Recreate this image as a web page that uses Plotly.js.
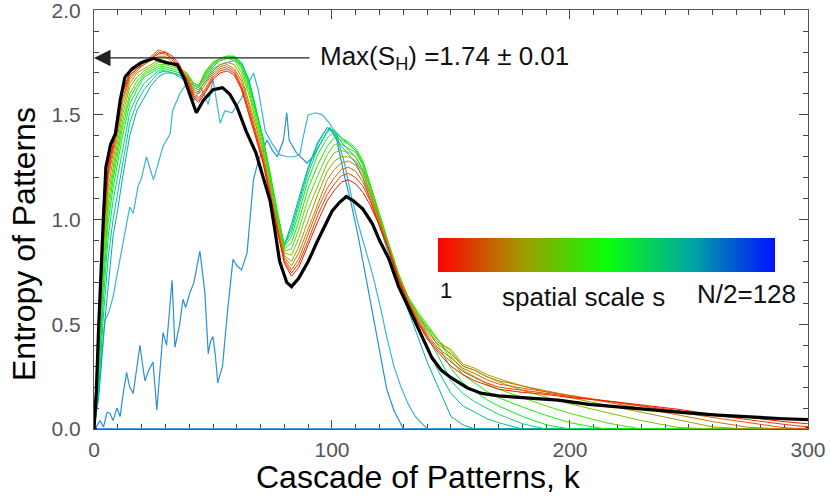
<!DOCTYPE html>
<html>
<head>
<meta charset="utf-8">
<script src="https://cdn.plot.ly/plotly-3.0.1.min.js"></script>
<style>html,body{margin:0;padding:0;background:#fff;}#chart{width:831px;height:497px;}</style>
</head>
<body>
<div id="chart"></div>
<script>
// ---------- data ----------
// Cascade index k for the scale family (s = 1 ... ~100)
const kFamily = [0,2,4,6,8,10,12,15,18,21,24,27,30,33,36,39,42,44,47,50,53,56,59,62,65,68,71,74,77,80,83,86,90,94,98,101,104,107,110,113,116,120,124,128,132,136,140,145,150,155,160,165,170,180,190,200,215,230,245,260,275,290,300];

// Entropy curves, one per spatial scale (red = small s ... teal = large s)
const scaleS = [1, 8, 16, 24, 32, 40, 50, 60, 70, 80, 90, 100];
const scaleColors = ['#ff1500','#f23c00','#e05e00','#c47c00','#a39c00','#7cc400','#48e200','#14f200','#00ee2e','#00dc62','#00c496','#00aab4'];

const s001 = [0,.55,1.00,1.26,1.36,1.49,1.61,1.70,1.73,1.75,1.77,1.79,1.80,1.78,1.74,1.66,1.58,1.56,1.61,1.67,1.70,1.71,1.69,1.62,1.51,1.39,1.27,1.11,.94,.79,.73,.77,.88,.99,1.09,1.14,1.18,1.19,1.17,1.13,1.07,.97,.85,.71,.60,.51,.43,.36,.30,.26,.23,.21,.19,.175,.165,.15,.135,.115,.095,.07,.055,.035,.025];
const s008 = [0,.5,.98,1.24,1.35,1.47,1.60,1.69,1.72,1.74,1.77,1.80,1.79,1.77,1.73,1.67,1.59,1.57,1.62,1.68,1.71,1.72,1.70,1.63,1.52,1.40,1.28,1.12,.95,.80,.745,.79,.90,1.02,1.12,1.17,1.21,1.22,1.20,1.16,1.09,.97,.85,.71,.60,.51,.44,.37,.32,.275,.245,.22,.20,.185,.17,.155,.135,.11,.09,.068,.045,.022,.01];
const s016 = [0,.48,.95,1.22,1.33,1.45,1.58,1.68,1.72,1.75,1.78,1.81,1.80,1.76,1.72,1.68,1.60,1.58,1.63,1.69,1.72,1.73,1.71,1.64,1.53,1.41,1.29,1.13,.96,.81,.76,.81,.93,1.05,1.15,1.20,1.24,1.25,1.23,1.18,1.10,.98,.86,.72,.61,.52,.45,.38,.34,.29,.265,.235,.215,.195,.178,.16,.135,.108,.082,.055,.03,.006,0];
const s024 = [0,.45,.92,1.2,1.31,1.43,1.56,1.67,1.71,1.74,1.76,1.78,1.78,1.75,1.72,1.68,1.61,1.60,1.65,1.70,1.73,1.74,1.72,1.66,1.55,1.43,1.30,1.14,.97,.82,.78,.84,.96,1.08,1.19,1.24,1.27,1.28,1.26,1.20,1.12,.99,.86,.72,.61,.53,.46,.40,.36,.30,.28,.25,.23,.205,.182,.16,.13,.10,.068,.035,.008,0,0];
const s032 = [0,.42,.88,1.16,1.28,1.40,1.53,1.65,1.70,1.72,1.74,1.76,1.76,1.74,1.72,1.69,1.62,1.61,1.67,1.72,1.74,1.75,1.74,1.68,1.57,1.45,1.32,1.15,.98,.83,.80,.87,1.00,1.12,1.23,1.28,1.30,1.30,1.28,1.22,1.13,1.00,.87,.73,.62,.54,.47,.41,.38,.31,.29,.26,.24,.205,.178,.15,.115,.08,.042,.01,0,0,0];
const s040 = [0,.40,.84,1.12,1.25,1.37,1.50,1.63,1.68,1.71,1.73,1.75,1.75,1.74,1.72,1.70,1.64,1.63,1.69,1.74,1.76,1.77,1.76,1.70,1.60,1.47,1.34,1.17,1.00,.84,.83,.91,1.05,1.16,1.27,1.32,1.33,1.32,1.30,1.24,1.15,1.01,.87,.73,.63,.55,.48,.42,.37,.30,.28,.25,.225,.185,.152,.12,.08,.04,.008,0,0,0,0];
const s050 = [0,.36,.80,1.08,1.22,1.34,1.47,1.60,1.66,1.70,1.72,1.74,1.74,1.73,1.72,1.70,1.65,1.64,1.70,1.75,1.77,1.78,1.77,1.72,1.62,1.49,1.36,1.19,1.02,.85,.86,.95,1.10,1.21,1.31,1.36,1.36,1.34,1.32,1.26,1.16,1.02,.88,.74,.63,.55,.49,.42,.35,.28,.25,.215,.19,.15,.11,.075,.03,0,0,0,0,0,0];
const s060 = [0,.32,.75,1.04,1.19,1.31,1.44,1.58,1.64,1.69,1.71,1.73,1.73,1.72,1.71,1.69,1.65,1.64,1.71,1.75,1.77,1.78,1.77,1.73,1.64,1.51,1.38,1.21,1.03,.86,.89,.99,1.15,1.26,1.35,1.39,1.38,1.36,1.33,1.27,1.17,1.02,.88,.74,.63,.56,.50,.42,.33,.26,.22,.18,.15,.105,.065,.03,0,0,0,0,0,0,0];
const s070 = [0,.28,.70,.99,1.15,1.27,1.40,1.55,1.62,1.68,1.70,1.72,1.72,1.71,1.70,1.68,1.65,1.64,1.71,1.75,1.77,1.78,1.78,1.74,1.65,1.52,1.39,1.22,1.04,.87,.92,1.03,1.19,1.31,1.39,1.42,1.39,1.37,1.34,1.28,1.17,1.02,.87,.73,.62,.54,.48,.39,.29,.22,.18,.14,.11,.06,.02,0,0,0,0,0,0,0,0];
const s080 = [0,.24,.63,.92,1.09,1.21,1.34,1.51,1.59,1.65,1.68,1.71,1.71,1.70,1.69,1.67,1.64,1.63,1.70,1.74,1.77,1.78,1.78,1.75,1.66,1.53,1.39,1.22,1.03,.88,.94,1.06,1.22,1.34,1.42,1.43,1.39,1.36,1.33,1.26,1.15,1.00,.86,.72,.61,.52,.44,.34,.23,.17,.13,.10,.07,.025,0,0,0,0,0,0,0,0,0];
const s090 = [0,.19,.55,.82,1.0,1.13,1.27,1.46,1.56,1.62,1.66,1.70,1.71,1.70,1.69,1.67,1.64,1.63,1.68,1.73,1.76,1.77,1.77,1.75,1.67,1.53,1.39,1.21,1.01,.88,.96,1.08,1.24,1.36,1.44,1.42,1.37,1.33,1.30,1.23,1.13,.99,.85,.71,.60,.49,.38,.27,.17,.11,.08,.05,.03,0,0,0,0,0,0,0,0,0,0];
const s100 = [0,.15,.45,.68,.92,1.05,1.20,1.40,1.52,1.58,1.64,1.68,1.70,1.70,1.68,1.66,1.63,1.62,1.66,1.71,1.74,1.75,1.76,1.74,1.67,1.53,1.38,1.20,.99,.88,.98,1.10,1.25,1.37,1.44,1.41,1.35,1.31,1.27,1.20,1.10,.97,.83,.69,.57,.44,.32,.19,.06,.02,0,0,0,0,0,0,0,0,0,0,0,0,0];
const familyValues = [s001,s008,s016,s024,s032,s040,s050,s060,s070,s080,s090,s100];

// Large-scale curve (cyan, s ~ 112)
const kCyan = [0,1,3,4.6,6,8,9.6,12,15,16.5,18.5,20,22,25,29,32,33,36,39,42,45,48,50,53,55,58,62,67,69,72,75,78,81,84,86.5,88,90,93,96,99,102,105,108,111,114,117,120,123,126,129,132,135,140,300];
const sCyan = [0,.09,.30,.52,.55,.63,.73,.87,1.06,1.03,1.16,1.20,1.30,1.19,1.35,1.41,1.52,1.60,1.65,1.57,1.63,1.55,1.67,1.46,1.52,1.51,1.58,1.70,1.62,1.42,1.36,1.31,1.30,1.30,1.31,1.40,1.50,1.51,1.50,1.46,1.40,1.28,1.12,.98,.86,.74,.60,.44,.30,.20,.12,.06,0,0];

// Largest-scale curve (blue, s ~ 120)
const kBlue = [0,1.5,2.5,4,5.5,6.7,8,9.6,11,12,13.7,15,16.5,18,19.3,20.5,21.4,23,24.8,26.4,28,29,30.5,32.8,34,36,37.4,38.5,40.3,42,44.5,46.6,48,49,50,51,52,53,54,56,58.4,60,62,64.3,66,67,69,71,72.7,75,77,79.6,81,82,85,89.5,92,96,99,102,105,108,111,114,117,120,123,126,130,300];
const sBlue = [0,.02,.04,.01,.08,.075,.04,.10,.06,.15,.27,.20,.17,.30,.40,.30,.23,.28,.32,.09,.30,.46,.40,.71,.39,.50,.62,.58,.65,.70,.85,.65,.36,.42,.44,.35,.22,.26,.30,.55,.81,.78,.76,.84,1.05,1.19,1.28,1.33,1.38,1.33,1.30,1.38,1.51,1.38,1.32,1.27,1.30,1.38,1.44,1.38,1.22,1.08,.92,.74,.55,.36,.19,.09,0,0];

// s = N/2 = 128 (flat at zero)
const kHalf = [0,300];
const sHalf = [0,0];
const sHalfScale = [128,128];

// Bold black reference curve
const kBlack = [0,1,2,3,4,5,7,9,11,13,16,20,25,30,35,38,41,43,46,50,54,57,60,64,68,71,74,76,78,81,83,86,90,94,97,100,103,106,109,113,117,120,124,128,133,137,142,146,150,157,163,170,178,185,195,208,220,234,248,262,276,290,300];
const sBlack = [0,.18,.5,.8,1.02,1.25,1.36,1.41,1.57,1.68,1.72,1.75,1.77,1.75,1.74,1.67,1.57,1.51,1.57,1.62,1.63,1.60,1.54,1.42,1.32,1.21,1.09,.95,.80,.70,.68,.72,.80,.90,.97,1.04,1.08,1.11,1.09,1.05,.98,.90,.81,.68,.56,.46,.34,.28,.245,.195,.17,.158,.152,.148,.138,.118,.105,.09,.078,.066,.056,.049,.045];

// Max entropy annotation
const maxEntropyLevel = 1.772;
const maxLabel = 'Max(S<sub>H</sub>) =1.74 ± 0.01';

// Colour bar of spatial scale
const scaleMin = 1, scaleMax = 128;
const scaleColorscale = [[0,'#ff0000'],[0.25,'#a39a00'],[0.5,'#0aff0a'],[0.75,'#00a8a0'],[1,'#0010ff']];

// ---------- traces ----------
const FONT = 'Liberation Sans, Arial, sans-serif';
const traces = [];
traces.push({
  x: kHalf, y: sHalf, mode: 'lines+markers', type: 'scatter',
  line: {color: '#4f9de6', width: 2},
  marker: {size: 0, color: sHalfScale, cmin: scaleMin, cmax: scaleMax, colorscale: scaleColorscale, showscale: true,
    colorbar: {orientation: 'h', xref: 'paper', yref: 'paper', x: 0.4818, xanchor: 'left', y: 0.4558, yanchor: 'top',
      len: 337, lenmode: 'pixels', thickness: 34, thicknessmode: 'pixels', xpad: 0, ypad: 0,
      outlinewidth: 0, showticklabels: false, ticks: ''}},
  hoverinfo: 'skip', showlegend: false
});
traces.push({x: kBlue, y: sBlue, mode: 'lines', type: 'scatter', line: {color: '#2a90d8', width: 1.2}, hoverinfo: 'skip', showlegend: false});
traces.push({x: kCyan, y: sCyan, mode: 'lines', type: 'scatter', line: {color: '#3ab4d4', width: 1.2}, hoverinfo: 'skip', showlegend: false});
for (let i = familyValues.length - 1; i >= 0; i--) {
  traces.push({x: kFamily, y: familyValues[i], mode: 'lines', type: 'scatter', name: 's=' + scaleS[i],
    line: {color: scaleColors[i], width: 1}, hoverinfo: 'skip', showlegend: false});
}
traces.push({x: kBlack, y: sBlack, mode: 'lines', type: 'scatter', line: {color: '#000000', width: 3.2}, hoverinfo: 'skip', showlegend: false});

const axisCommon = {
  showline: true, linecolor: '#555', linewidth: 1, mirror: 'allticks',
  ticks: 'inside', ticklen: 9, tickwidth: 1, tickcolor: '#444',
  showgrid: false, zeroline: false, layer: 'below traces',
  ticklabeloverflow: 'allow',
  tickfont: {family: FONT, size: 21, color: '#555'}
};

const layout = {
  width: 831, height: 497,
  margin: {l: 94, r: 23, t: 10, b: 68},
  paper_bgcolor: '#ffffff', plot_bgcolor: '#ffffff',
  font: {family: FONT, color: '#111'},
  showlegend: false,
  xaxis: Object.assign({}, axisCommon, {
    range: [0, 300.01], tick0: 0, dtick: 100,
    minor: {dtick: 10, ticklen: 5, ticks: 'inside', tickcolor: '#444'},
    ticklabelstandoff: 2
  }),
  yaxis: Object.assign({}, axisCommon, {
    range: [0, 2.0008], tick0: 0, dtick: 0.5, tickformat: '.1f',
    minor: {dtick: 0.1, ticklen: 5, ticks: 'inside', tickcolor: '#444'},
    ticklabelstandoff: 8
  }),
  annotations: [
    {xref: 'paper', yref: 'paper', x: (418 - 94) / 714, y: (429 - 477) / 419, text: 'Cascade of Patterns, k',
     showarrow: false, xanchor: 'center', yanchor: 'middle', font: {family: FONT, size: 32, color: '#000'}},
    {xref: 'paper', yref: 'paper', x: (24 - 94) / 714, y: (429 - 244) / 419, text: 'Entropy of Patterns', textangle: -90,
     showarrow: false, xanchor: 'center', yanchor: 'middle', font: {family: FONT, size: 32, color: '#000'}},
    {xref: 'x', yref: 'y', x: 0, y: maxEntropyLevel, ax: 147.3, ay: maxEntropyLevel, axref: 'x', ayref: 'y',
     text: maxLabel, showarrow: true, arrowhead: 2, arrowsize: 3, arrowwidth: 1.1, arrowcolor: '#222', standoff: 0,
     borderpad: 10, xanchor: 'center', yanchor: 'middle', font: {family: FONT, size: 26, color: '#111'}},
    {xref: 'paper', yref: 'paper', x: 0.4818, y: 0.3317, text: String(scaleMin), showarrow: false,
     xanchor: 'left', yanchor: 'middle', font: {family: FONT, size: 22, color: '#111'}},
    {xref: 'paper', yref: 'paper', x: (500 - 94) / 714, y: 0.315, text: 'spatial scale s', showarrow: false,
     xanchor: 'left', yanchor: 'middle', font: {family: FONT, size: 26, color: '#111'}},
    {xref: 'paper', yref: 'paper', x: (798 - 94) / 714, y: 0.322, text: 'N/2=' + scaleMax, showarrow: false,
     xanchor: 'right', yanchor: 'middle', font: {family: FONT, size: 26, color: '#111'}}
  ]
};

Plotly.newPlot('chart', traces, layout, {displayModeBar: false, staticPlot: true});
</script>
</body>
</html>
